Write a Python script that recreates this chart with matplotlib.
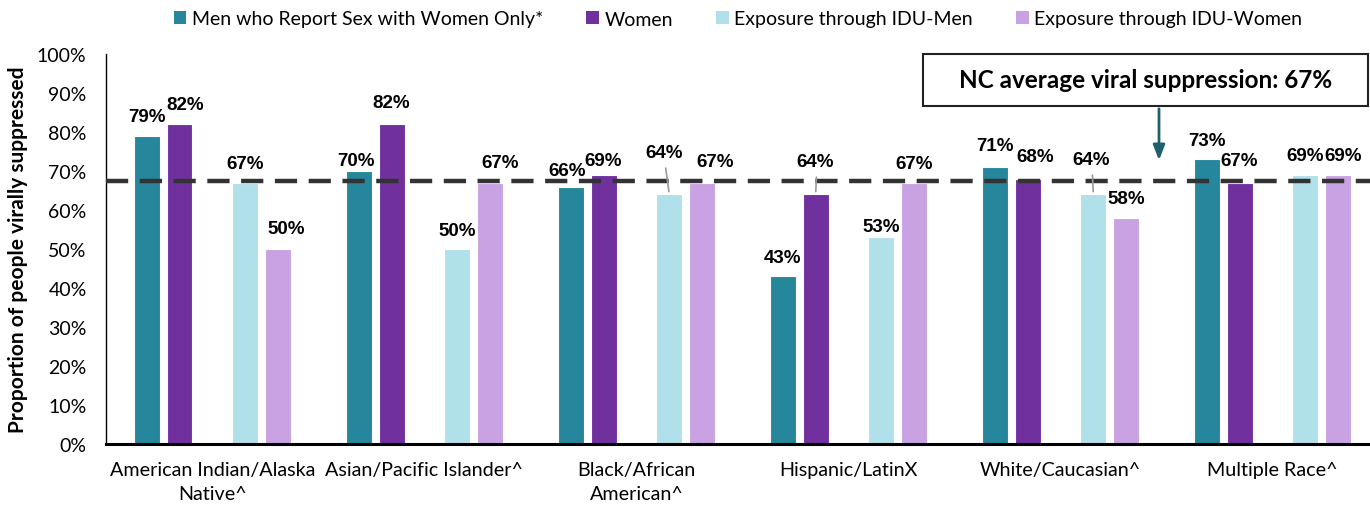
import matplotlib
matplotlib.use("Agg")
import matplotlib.pyplot as plt
from matplotlib.patches import Patch, Rectangle
import numpy as np

# データ
categories = ["American Indian/Alaska\nNative^", "Asian/Pacific Islander^", "Black/African\nAmerican^",
              "Hispanic/LatinX", "White/Caucasian^", "Multiple Race^"]
series_names = ["Men who Report Sex with Women Only*", "Women",
                "Exposure through IDU-Men", "Exposure through IDU-Women"]
men_msw = [79, 70, 66, 43, 71, 73]
women = [82, 82, 69, 64, 68, 67]
idu_men = [67, 50, 64, 53, 64, 69]
idu_women = [50, 67, 67, 67, 58, 69]
nc_avg = 67.4

colors = ["#26869B", "#70309E", "#B0E0EA", "#C8A2E2"]
offsets = [-0.31, -0.155, 0.155, 0.31]
bar_w = 0.122

# ラベル位置の調整 (dx, dy ピクセル) / 引き出し線あり
label_shift = {
    (0, 1): (6, 20), (0, 3): (8, 20),
    (1, 0): (-3, 11), (1, 1): (0, 22), (1, 3): (10, 20),
    (2, 0): (-4, 16), (2, 1): (0, 14), (2, 2): (-5, 42), (2, 3): (13, 21),
    (3, 1): (0, 33), (3, 2): (0, 11),
    (4, 0): (0, 22), (4, 1): (8, 22), (4, 2): (-2, 35),
    (5, 1): (0, 22), (5, 3): (5, 19),
}
leaders = [(2, 2), (3, 1), (4, 2)]

calibri = ["Lato", "DejaVu Sans"]
arial = ["Liberation Sans", "DejaVu Sans"]

fig = plt.figure(figsize=(13.7, 5.06), dpi=100)
ax = fig.add_axes([106 / 1370, 1 - 445 / 506, 1 - 106 / 1370, 390 / 506])

x = np.arange(len(categories))
all_series = [men_msw, women, idu_men, idu_women]
px = 0.72  # px -> pt
for s, vals in enumerate(all_series):
    ax.bar(x + offsets[s], np.array(vals) / 100, width=bar_w, color=colors[s],
           edgecolor="white", linewidth=0.8, zorder=2)
    for i, v in enumerate(vals):
        dx, dy = label_shift.get((i, s), (0, 19))
        ax.annotate(f"{v}%", (x[i] + offsets[s], v / 100), xytext=(dx * px, dy * px),
                    textcoords="offset points", ha="center", va="center",
                    fontsize=13.5, fontweight="bold", family=arial, zorder=5)
        if (i, s) in leaders:
            ax.annotate("", (x[i] + offsets[s], v / 100),
                        xytext=((dx + 1) * px, (dy - 13) * px), textcoords="offset points",
                        arrowprops=dict(arrowstyle="-", color="#999999", lw=1.2), zorder=4)

ax.axhline(nc_avg / 100, color="#333333", lw=3.2, dashes=(5, 2.6), zorder=3, clip_on=False)

ax.set_xlim(-0.502, 5.46)
ax.set_ylim(0, 1)
ax.set_yticks(np.arange(0, 1.01, 0.1))
ax.set_yticklabels([f"{int(round(t * 100))}%" for t in np.arange(0, 1.01, 0.1)],
                   family=calibri, fontsize=14)
ax.tick_params(axis="y", length=0, pad=14)
ax.set_xticks(x)
ax.set_xticklabels(categories, family=calibri, fontsize=14.2, linespacing=1.5)
ax.tick_params(axis="x", length=0, pad=12)
for side in ["top", "right"]:
    ax.spines[side].set_visible(False)
ax.spines["left"].set_linewidth(1.0)
ax.spines["bottom"].set_linewidth(2.2)
ax.set_ylabel("Proportion of people virally suppressed", family=calibri,
              fontsize=15, fontweight="bold", va="center")
ax.yaxis.set_label_coords(-88 / 1264, 0.5)

handles = [Patch(facecolor=c, edgecolor="none") for c in colors]
fig.legend(handles, series_names, loc="center", bbox_to_anchor=(738 / 1370, 1 - 20 / 506),
           ncol=4, frameon=False, prop={"family": calibri, "size": 14},
           handlelength=0.65, handleheight=0.65, handletextpad=0.3, columnspacing=2.2)

# 平均値ボックスと矢印
fig.patches.append(Rectangle((923 / 1370, 1 - 107 / 506), 445 / 1370, 52 / 506,
                             transform=fig.transFigure, facecolor="white",
                             edgecolor="#222222", lw=1.5, zorder=6))
fig.text((923 + 445 / 2) / 1370, 1 - 81 / 506, f"NC average viral suppression: {round(nc_avg)}%",
         ha="center", va="center", fontsize=17.5, fontweight="bold", family=calibri, zorder=7)
ax.annotate("", xy=(1159 / 1370, 1 - 164 / 506), xytext=(1159 / 1370, 1 - 107 / 506),
            xycoords="figure fraction", textcoords="figure fraction",
            arrowprops=dict(arrowstyle="-|>,head_width=0.35,head_length=0.9",
                            color="#1F5F6E", lw=2), zorder=6)

plt.savefig("out.png", dpi=100)
